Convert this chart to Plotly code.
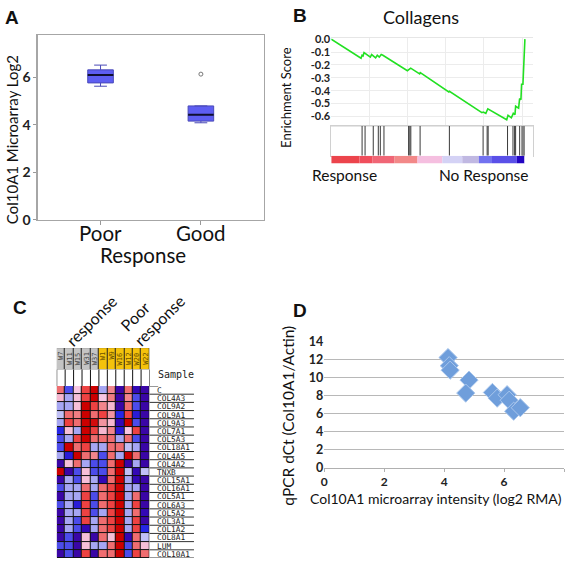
import plotly.graph_objects as go

W, H = 567, 566
def px(x): return x / W
def py(y): return 1 - y / H

# ---------------- Panel A data ----------------
box_cats = ["Poor", "Good"]
box_q1 = [5.77, 4.16]
box_med = [6.10, 4.43]
box_q3 = [6.32, 4.80]
box_lo = [5.63, 4.09]
box_hi = [6.52, 4.80]
outlier_cat = [1]
outlier_val = [6.14]

# ---------------- Panel B data ----------------
es_rank = [0, 147.5, 152.5, 157.4, 162.3, 193.4, 200, 219.7, 227.9, 237.7, 247.5, 255.7,
           377, 383.6, 388.5, 393.4, 437.7, 441, 582, 585.2, 745.9, 752.5, 765.6, 775.4,
           868.9, 875.4, 891.8, 901.6, 909.8, 913.1, 927.9, 932.8, 939.3, 942.6, 949.2,
           952.5, 955.7, 959]
es_val = [0.0, -0.148, -0.125, -0.13, -0.105, -0.14, -0.12, -0.145, -0.125, -0.14, -0.12, -0.125,
          -0.245, -0.235, -0.235, -0.225, -0.27, -0.26, -0.41, -0.405, -0.57, -0.565, -0.575, -0.54,
          -0.625, -0.59, -0.61, -0.575, -0.585, -0.52, -0.535, -0.46, -0.47, -0.35, -0.35,
          -0.19, -0.19, 0.0]
hit_rank = [152.7, 167.5, 208, 233, 243, 261, 383, 389, 394, 440, 585,
            752, 772, 777, 873, 900, 908, 913, 933]
hit_rank_dense = [944, 947, 950, 953, 956]
rank_edges = [0, 139.6, 205, 312, 427, 550, 649, 731, 796, 919, 957, 1000]
rank_colors = ["#ec444c", "#f04e5c", "#f06676", "#f28888", "#f5bfe0", "#d4d2f5", "#c0b8e2",
               "#7272f0", "#5a50e8", "#2204c2", "#ffffff"]

# ---------------- Panel C data ----------------
samples = ["W7", "W11", "W15", "W31", "W37", "W1", "W9", "W16", "W12", "W20", "W22"]
sample_group = [0, 0, 0, 0, 0, 1, 1, 1, 1, 1, 1]
genes = ["C", "COL4A3", "COL9A2", "COL9A1", "COL9A3", "COL7A1", "COL5A3", "COL18A1", "COL4A5",
         "COL4A2", "TNXB", "COL15A1", "COL16A1", "COL5A1", "COL6A3", "COL5A2", "COL3A1",
         "COL1A2", "COL8A1", "LUM", "COL10A1"]
expr = [
    [1.5, -1.5, 0.3, 2, 3, -0.8, 1.2, -3, 1.5, -2.5, -3],
    [0.5, -0.8, 0.4, 2, 3, 0.3, 1.3, -3, 1.2, -1.5, -3],
    [-0.8, -0.8, 0.4, 3, 2, 1.2, 0.5, -3, 1.5, -1.5, -3],
    [-0.6, 1.5, 1.3, 3, 1.5, 2, 1.0, -1.8, 2, -2, -3],
    [-0.8, 2, 1.5, 3, 2.8, 1.0, 0.5, -2.5, 3, -1.5, -3],
    [-1.8, 0.4, -0.8, 3, 2, 0.5, 1.2, -2, 0.3, 2, -3],
    [-1.5, -0.8, 2, 3, 1.5, 1.5, 1.5, -0.8, 1.5, -1.5, -3],
    [-1.5, 3, 1.5, 2, -0.8, -0.8, 1.5, 1.5, -0.6, -0.8, -3],
    [-0.8, -2, 3, 1.5, 1.2, -1.5, 1.5, -0.8, 3, 1.5, -3],
    [-3, 0.4, 1.5, -0.8, -1.5, -1.5, 1.5, 3, -3, -0.8, -3],
    [3, -3, -1.5, 0.4, -1.5, -1.5, 1.5, 3, -0.6, -2.5, -0.6],
    [-3, -0.8, -1.5, 0.4, -0.8, -2.5, 1.5, 3, -0.8, -2.5, -3],
    [-1.5, -0.8, -0.8, 1.5, -0.8, 1.5, 2, 3, -0.8, -0.8, -3],
    [-3, -0.8, -0.8, 2, -1.5, 1.5, 2, 3, -0.8, 1.5, -3],
    [-1.5, -0.8, -2, 2, -1.5, 1.5, 2, 3, -0.8, 2, -3],
    [-3, -0.8, -0.8, 2, -1.5, -0.8, 2, 3, -0.8, 1.5, -2.5],
    [-3, -0.8, -1.5, 2, -0.8, 1.5, 2, 3, -0.8, 2, -3],
    [-3, -0.8, -1.5, -2.5, -0.8, 1.5, 2, 3, -0.8, 2, -1.8],
    [-3, -1.5, -3, 0.4, -3, 1.5, 0.4, 3, -2.5, 1.5, -0.6],
    [-1.5, -1.5, -3, 0.4, -0.8, -0.8, 1.5, 3, -1.5, 1.5, 0.4],
    [-3, -1.5, -3, 2, -3, 1.5, 1.5, 3, -1.5, 2, 1.5],
]
heat_scale = [[0.0, "#3a06a6"], [0.1, "#3208b8"], [0.2, "#2626e6"], [0.32, "#8282f0"],
              [0.42, "#cfd0f7"], [0.55, "#f7c6e2"], [0.72, "#f07c80"], [0.86, "#ec3434"],
              [1.0, "#cc0000"]]

# ---------------- Panel D data ----------------
d_x = [4.13, 4.17, 4.20, 4.83, 4.72, 5.61, 5.77, 6.10, 6.17, 6.32, 6.54]
d_y = [12.2, 11.3, 10.8, 9.7, 8.26, 8.33, 7.7, 8.08, 7.47, 6.25, 6.64]

fig = go.Figure()

# ---- Panel A ----
box_pos = list(range(len(box_cats)))
bw = 0.255
fig.add_trace(go.Box(x=box_pos, q1=box_q1, median=box_med, q3=box_q3,
                     lowerfence=box_lo, upperfence=box_hi, width=bw, boxpoints=False,
                     fillcolor="#5e5ef2", line=dict(color="#4a4ab8", width=1),
                     whiskerwidth=0.5, xaxis="x", yaxis="y", hoverinfo="skip"))
for i, m in enumerate(box_med):
    fig.add_trace(go.Scatter(x=[i - bw / 2, i + bw / 2], y=[m, m], mode="lines",
                             line=dict(color="#101030", width=2), xaxis="x", yaxis="y"))
fig.add_trace(go.Scatter(x=outlier_cat, y=outlier_val, mode="markers",
                         marker=dict(symbol="circle-open", size=4, color="#777777", line=dict(width=1)),
                         xaxis="x", yaxis="y"))

# ---- Panel B ----
fig.add_trace(go.Scatter(x=es_rank, y=es_val, mode="lines", line=dict(color="#22e022", width=1.6),
                         xaxis="x2", yaxis="y2"))
hx, hy = [], []
for r in hit_rank:
    hx += [r, r, None]
    hy += [0, 1, None]
fig.add_trace(go.Scatter(x=hx, y=hy, mode="lines", line=dict(color="#3a3a3a", width=1),
                         xaxis="x3", yaxis="y3"))
dx_, dy_ = [], []
for r in hit_rank_dense:
    dx_ += [r, r, None]
    dy_ += [0, 1, None]
fig.add_trace(go.Scatter(x=dx_, y=dy_, mode="lines", line=dict(color="#808080", width=1.2),
                         xaxis="x3", yaxis="y3"))
centers = [(rank_edges[i] + rank_edges[i + 1]) / 2 for i in range(len(rank_colors))]
widths = [rank_edges[i + 1] - rank_edges[i] for i in range(len(rank_colors))]
fig.add_trace(go.Bar(x=centers, y=[1] * len(centers), width=widths,
                     marker=dict(color=rank_colors, line=dict(width=0)),
                     xaxis="x4", yaxis="y4"))

# ---- Panel C ----
fig.add_trace(go.Heatmap(z=expr, x=list(range(len(samples))), y=list(range(len(genes))),
                         colorscale=heat_scale, zmin=-3, zmax=3, showscale=False,
                         xgap=1, ygap=1, xaxis="x5", yaxis="y5", hoverinfo="skip"))
fig.add_trace(go.Heatmap(z=[sample_group], x=list(range(len(samples))), y=[0],
                         colorscale=[[0, "#c4c4c4"], [0.5, "#c4c4c4"], [0.5, "#f4c20c"], [1, "#f4c20c"]],
                         zmin=0, zmax=1, showscale=False, xgap=1, xaxis="x6", yaxis="y6", hoverinfo="skip"))

# ---- Panel D ----
fig.add_trace(go.Scatter(x=d_x, y=d_y, mode="markers",
                         marker=dict(symbol="diamond", size=14, color="#6f9edb",
                                     line=dict(color="#a9c6ec", width=1)),
                         xaxis="x7", yaxis="y7"))

bold = dict(family="Lato", weight="bold", color="#222222")
nc, nr = len(samples), len(genes)

layout = dict(
    width=W, height=H, margin=dict(l=0, r=0, t=0, b=0), showlegend=False,
    paper_bgcolor="white", plot_bgcolor="white",
    # A
    xaxis=dict(domain=[px(35), px(262)], range=[-0.625, 1.625], tickvals=box_pos, ticktext=["", ""],
               ticks="outside", ticklen=4,
               tickcolor="#999999", showline=True, linecolor="#a6a6a6", linewidth=1.5, mirror=True,
               showgrid=False, zeroline=False, anchor="y"),
    yaxis=dict(domain=[py(218), py(28)], range=[0, 7.78], tickvals=[0, 2, 4, 6],
               tickfont=dict(size=14, **bold), ticks="outside", ticklen=3, tickcolor="#999999",
               showline=True, linecolor="#a6a6a6", linewidth=1.5, mirror=True,
               showgrid=False, zeroline=False, anchor="x"),
    # B ES
    xaxis2=dict(domain=[px(330), px(533)], range=[0, 1000], tick0=0, dtick=189, showticklabels=False,
                showgrid=True, gridcolor="#ececec", zeroline=False, anchor="y2",
                showline=True, linecolor="#e6e6e6", mirror=True),
    yaxis2=dict(domain=[py(121), py(31)], range=[-0.67, 0.0075], tickvals=[0, -0.1, -0.2, -0.3, -0.4, -0.5, -0.6],
                ticktext=["0.0", "-0.1", "-0.2", "-0.3", "-0.4", "-0.5", "-0.6"],
                tickfont=dict(size=11, **bold), showgrid=True, gridcolor="#ececec", zeroline=False,
                anchor="x2", showline=False),
    xaxis3=dict(domain=[px(330), px(533)], range=[0, 1000], showticklabels=False, showgrid=False,
                zeroline=False, anchor="y3", showline=True, linecolor="#d0d0d0", mirror=True),
    yaxis3=dict(domain=[py(152), py(121)], range=[0, 1], showticklabels=False, showgrid=False,
                zeroline=False, anchor="x3", showline=True, linecolor="#d0d0d0", mirror=True),
    xaxis4=dict(domain=[px(330), px(533)], range=[0, 1000], showticklabels=False, showgrid=False,
                zeroline=False, anchor="y4"),
    yaxis4=dict(domain=[py(160), py(152)], range=[0, 1], showticklabels=False, showgrid=False,
                zeroline=False, anchor="x4"),
    # C
    xaxis5=dict(domain=[px(54), px(147.3)], range=[-0.5, nc - 0.5], showticklabels=False, showgrid=False,
                zeroline=False, anchor="y5"),
    yaxis5=dict(domain=[0, py(389)], range=[nr - 0.5, -0.5], showticklabels=False, showgrid=False,
                zeroline=False, anchor="x5"),
    xaxis6=dict(domain=[px(54), px(147.3)], range=[-0.5, nc - 0.5], showticklabels=False, showgrid=False,
                zeroline=False, anchor="y6"),
    yaxis6=dict(domain=[py(372), py(350)], range=[-0.5, 0.5], showticklabels=False, showgrid=False,
                zeroline=False, anchor="x6"),
    # D
    xaxis7=dict(domain=[px(323), px(564)], range=[0, 8], dtick=2, tickfont=dict(size=12, **bold),
                ticks="outside", ticklen=3, tickcolor="#b0b0b0", showline=True, linecolor="#b0b0b0",
                showgrid=False, zeroline=False, anchor="y7"),
    yaxis7=dict(domain=[py(473), py(343)], range=[0, 14], dtick=2, tickfont=dict(size=12.5, **bold),
                showgrid=True, gridcolor="#b8b8b8", gridwidth=1, zeroline=False, anchor="x7"),
)
fig.update_layout(**layout)

shapes = []
shapes.append(dict(type="rect", xref="x5", yref="y5", x0=-0.5, x1=nc - 0.5, y0=-0.5, y1=nr - 0.5,
                   fillcolor="#111111", line=dict(width=0), layer="below"))
shapes.append(dict(type="rect", xref="x6", yref="y6", x0=-0.5, x1=nc - 0.5, y0=-0.5, y1=0.5,
                   fillcolor="#222222", line=dict(width=0), layer="below"))
for i in range(nc + 1):
    shapes.append(dict(type="line", xref="x5", yref="paper", x0=i - 0.5, x1=i - 0.5,
                       y0=py(389), y1=py(372), line=dict(color="#111111", width=1)))
for j in range(nr):
    shapes.append(dict(type="line", xref="paper", yref="y5", x0=px(147.3), x1=px(192),
                       y0=j + 0.5, y1=j + 0.5, line=dict(color="#333333", width=1)))
shapes.append(dict(type="line", xref="paper", yref="y5", x0=px(147.3), x1=px(156),
                   y0=-0.5, y1=-0.5, line=dict(color="#333333", width=1)))
fig.update_layout(shapes=shapes)

ann = []
def text(x, y, t, size, angle=0, xanchor="center", yanchor="middle", font=None, **kw):
    f = dict(family="Lato", size=size, color="#111111")
    if font:
        f.update(font)
    ann.append(dict(x=px(x), y=py(y), xref="paper", yref="paper", text=t, showarrow=False,
                    textangle=angle, xanchor=xanchor, yanchor=yanchor, font=f, **kw))

# panel letters
text(9, 10, "A", 19, font=dict(weight="bold", family="Liberation Sans"))
text(299, 8, "B", 19, font=dict(weight="bold", family="Liberation Sans"))
text(17, 308, "C", 19, font=dict(weight="bold", family="Liberation Sans"))
text(299, 311, "D", 19, font=dict(weight="bold", family="Liberation Sans"))
# A
text(9, 135, "Col10A1 Microarray Log2", 15, angle=-90)
for i, c in enumerate(box_cats):
    ann.append(dict(x=i, y=py(231.5), xref="x", yref="paper", text=c, showarrow=False,
                    xanchor="center", yanchor="middle", font=dict(family="Lato", size=20.5, color="#111111")))
text(141, 254.5, "Response", 20.5)
# B
text(420, 9, "Collagens", 18)
text(285, 92, "Enrichment Score", 13, angle=-90)
text(309, 172, "Response", 15.5, xanchor="left")
text(530, 172, "No Response", 15.5, xanchor="right")
# C
text(89, 322, "response", 16, angle=-45)
text(132, 317, "Poor", 16, angle=-45)
text(157, 322, "response", 16, angle=-45)
text(154, 377, "Sample", 10, xanchor="left", font=dict(family="DejaVu Sans Mono", color="#222222"))
for i, s in enumerate(samples):
    ann.append(dict(x=i, y=py(352), xref="x6", yref="paper", text=s, showarrow=False, textangle=-90,
                    xanchor="center", yanchor="top",
                    font=dict(family="DejaVu Sans Mono", size=7, color="#444444" if sample_group[i] == 0 else "#6a5000")))
for j, g in enumerate(genes):
    ann.append(dict(x=px(153.5), y=j + 0.05, xref="paper", yref="y5", text=g, showarrow=False,
                    xanchor="left", yanchor="middle", borderpad=0,
                    font=dict(family="DejaVu Sans Mono", size=7.8, color="#1a1a1a")))
# D
text(287, 419, "qPCR dCt (Col10A1/Actin)", 15.5, angle=-90)
text(435, 505, "Col10A1 microarray intensity (log2 RMA)", 14)
fig.update_layout(annotations=ann)

fig.write_html("out.html", config={"displayModeBar": False, "staticPlot": True},
               post_script="document.body.style.margin='0';document.body.style.padding='0';document.documentElement.style.overflow='hidden';")
